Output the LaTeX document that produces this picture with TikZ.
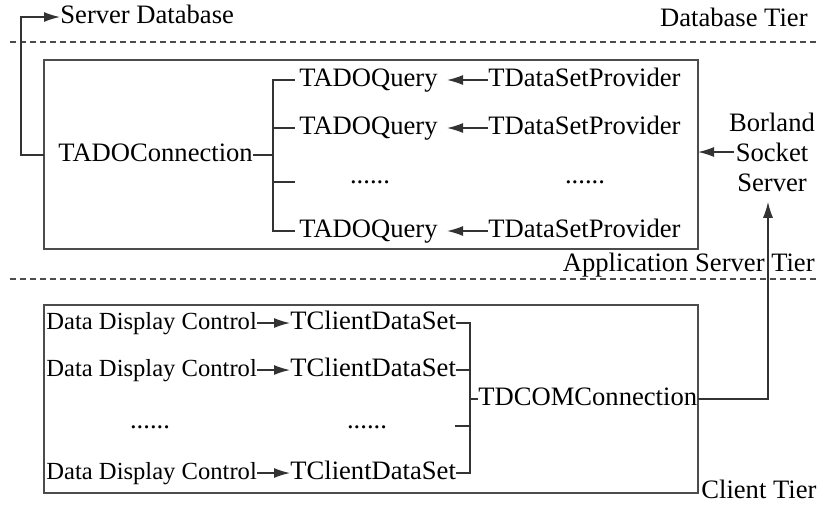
\documentclass[tikz,border=0pt]{standalone}
\usepackage{fontspec}
\setmainfont{Liberation Serif}
\usetikzlibrary{arrows.meta}

\begin{document}
\begin{tikzpicture}[x=.5pt, y=-.5pt,
	every node/.style={inner sep=0pt, font=\fontsize{13.3}{15}\selectfont},
	lbl/.style={text height=.66em, text depth=0pt},
	ddc/.style={lbl, font=\fontsize{12.3}{15}\selectfont},
	line/.style={line width=.7pt, black!80},
	arr/.style={line, -{Latex[length=8pt, width=5pt]}},
	tier/.style={line width=.6pt, black!70, dash pattern=on 3pt off 2pt},
	box/.style={line width=.7pt, black!70}]
	\useasboundingbox (0,0) rectangle (820,511);

	% tiers
	\draw[tier] (10,42) -- (820,42);
	\draw[tier] (10,279) -- (820,279);
	\node[anchor=base east] (dbtier) at (808,26) {Database Tier};
	\node[anchor=base east] (apptier) at (815,271) {Application Server Tier};
	\node[anchor=base west] (clitier) at (701,498) {Client Tier};

	\node[lbl, anchor=west] (db) at (60,17) {Server Database};

	% application server
	\node[shape=coordinate] (apptl) at (44,60) {};
	\node[shape=coordinate] (appbr) at (698,249) {};
	\draw[box] (apptl) rectangle (appbr);

	\node[lbl, anchor=west] (adoconn) at (58,155) {TADOConnection};
	\node[lbl, anchor=west] (q1) at (299,80) {TADOQuery};
	\node[lbl, anchor=west] (q2) at (299,128) {TADOQuery};
	\node[shape=coordinate] (q3) at (295,182) {};
	\node[lbl, anchor=west] (q4) at (299,231) {TADOQuery};
	\node[anchor=base] (qdots) at (370,183) {......};

	\node[lbl, anchor=west] (p1) at (488,80) {TDataSetProvider};
	\node[lbl, anchor=west] (p2) at (488,128) {TDataSetProvider};
	\node[anchor=base] (pdots) at (585,183) {......};
	\node[lbl, anchor=west] (p4) at (488,231) {TDataSetProvider};

	\draw[line] (adoconn.east) -- ++(20,0) |- ([xshift=-2pt]q1.west);
	\draw[line] (adoconn.east) -- ++(20,0) |- ([xshift=-2pt]q2.west);
	\draw[line] (adoconn.east) -- ++(20,0) |- (q3);
	\draw[line] (adoconn.east) -- ++(20,0) |- ([xshift=-2pt]q4.west);

	\draw[arr, shorten >=4.5pt] (p1.west) -- (q1.east);
	\draw[arr, shorten >=4.5pt] (p2.west) -- (q2.east);
	\draw[arr, shorten >=4.5pt] (p4.west) -- (q4.east);

	\draw[arr] (adoconn.west -| apptl) -- ++(-23,0) |- (db.west);

	\node[align=center] (bss) at (772,152) {Borland\\Socket\\Server};
	\draw[arr] ([xshift=2.5pt]bss.west) -- (bss.west -| appbr);

	% client
	\node[shape=coordinate] (clitl) at (44,305) {};
	\node[shape=coordinate] (clibr) at (698,493) {};
	\draw[box] (clitl) rectangle (clibr);

	\node[ddc, anchor=west] (ddc1) at (46,323) {Data Display Control};
	\node[ddc, anchor=west] (ddc2) at (46,370) {Data Display Control};
	\node[anchor=base] (ddcdots) at (150,428) {......};
	\node[ddc, anchor=west] (ddc4) at (46,473) {Data Display Control};

	\node[lbl, anchor=west] (cds1) at (290,323) {TClientDataSet};
	\node[lbl, anchor=west] (cds2) at (290,370) {TClientDataSet};
	\node[anchor=base] (cdsdots) at (367,428) {......};
	\node[shape=coordinate] (cds3) at (455,426) {};
	\node[lbl, anchor=west] (cds4) at (290,473) {TClientDataSet};

	\draw[arr] (ddc1.east) -- (cds1.west);
	\draw[arr] (ddc2.east) -- (cds2.west);
	\draw[arr] (ddc4.east) -- (cds4.west);

	\node[lbl, anchor=west] (dcom) at (478,399) {TDCOMConnection};
	\node[shape=coordinate] (cbus) at (470,399) {};
	\draw[line] (cds1.east) -| (cbus);
	\draw[line] (cds2.east) -| (cbus);
	\draw[line] (cds3) -| (cbus);
	\draw[line] (cds4.east) -| (cbus);
	\draw[line] (cbus) -- (dcom.west);

	\draw[arr, shorten >=5pt] (dcom.east) -| ([xshift=-2pt]bss.south);
\end{tikzpicture}
\end{document}
